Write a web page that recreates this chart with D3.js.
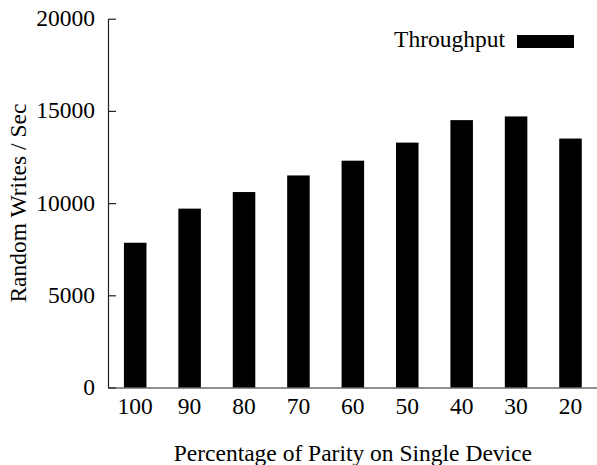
<!DOCTYPE html>
<meta charset='utf-8'>
<style>
body { margin: 0; background: #fff; }
svg text { font-family: 'Liberation Serif', 'Times New Roman', serif; font-size: 23.5px; fill: #000; }
.axis path, .axis line { stroke: #222; stroke-width: 1.2px; }
</style>
<body>
<script src='https://d3js.org/d3.v7.min.js'></script>
<script>
(() => {
'use strict'

// Data
let categories = ['100', '90', '80', '70', '60', '50', '40', '30', '20'],
	throughput = [7850, 9700, 10600, 11500, 12300, 13280, 14500, 14700, 13500],
	y_ticks = [0, 5000, 10000, 15000, 20000],
	series_name = 'Throughput'

let W = 597, H = 465,
	m_left = 108, m_right = 597.7, m_top = 18.7, m_bottom = 387.5

let x = d3.scaleBand().domain(categories).range([m_left, m_right])
		.paddingInner(0.586).paddingOuter(0.293),
	y = d3.scaleLinear().domain([0, 20000]).range([m_bottom, m_top])

let svg = d3.select('body').append('svg')
	.attr('width', W).attr('height', H)

// bars
svg.append('g').selectAll('rect')
	.data(categories.map((c, i) => ({c: c, v: throughput[i]})))
	.enter().append('rect')
		.attr('x', d => x(d.c)).attr('width', x.bandwidth())
		.attr('y', d => y(d.v)).attr('height', d => y(0) - y(d.v))
		.attr('fill', '#000')

// axes
svg.append('g').attr('class', 'axis')
	.attr('transform', `translate(${m_left},0)`)
	.call(d3.axisLeft(y).tickValues(y_ticks).tickFormat(d3.format('d'))
		.tickSizeInner(-8).tickSizeOuter(0).tickPadding(13))
	.call(s => s.selectAll('text').attr('dy', '0.3em'))

svg.append('g').attr('class', 'axis')
	.attr('transform', `translate(0,${m_bottom})`)
	.call(d3.axisBottom(x).tickSize(0).tickPadding(10))

svg.selectAll('.axis').attr('font-family', null).attr('font-size', null)

// axis titles
svg.append('text')
	.attr('transform', `translate(26,${(m_top + m_bottom) / 2}) rotate(-90)`)
	.attr('text-anchor', 'middle')
	.text('Random Writes / Sec')

svg.append('text')
	.attr('x', (m_left + m_right) / 2).attr('y', 461)
	.attr('text-anchor', 'middle')
	.text('Percentage of Parity on Single Device')

// legend
let lg = svg.append('g').attr('transform', 'translate(505,47)')
lg.append('text').attr('text-anchor', 'end').text(series_name)
lg.append('rect').attr('x', 12).attr('y', -12).attr('width', 57).attr('height', 13)
	.attr('fill', '#000')
})()
</script>
</body>
